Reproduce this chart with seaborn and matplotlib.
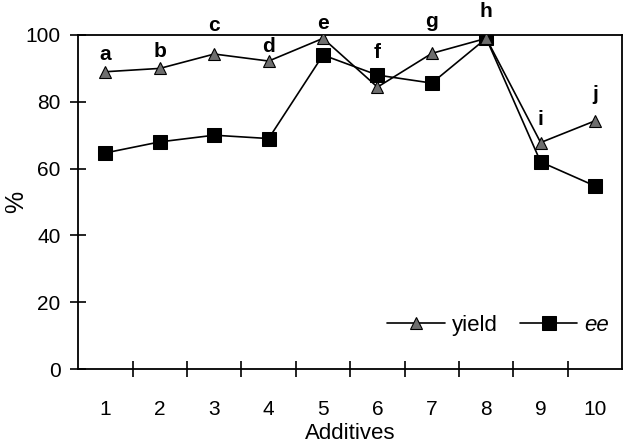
import matplotlib
matplotlib.use('Agg')
import matplotlib.pyplot as plt
import seaborn as sns
import pandas as pd

additives = [1, 2, 3, 4, 5, 6, 7, 8, 9, 10]
point_labels = ['a', 'b', 'c', 'd', 'e', 'f', 'g', 'h', 'i', 'j']
yield_pct = [89, 90, 94.3, 92.2, 99, 84.4, 94.5, 99, 67.8, 74.3]
ee_pct = [64.7, 68, 70, 69, 94, 88, 85.6, 99, 62, 54.8]
# baseline heights (in % units) of the letter labels
label_y = [92.5, 93.4, 101.2, 94.9, 101.8, 93.1, 102.4, 105.4, 73.1, 80.5]

sns.set_style('white', {'text.color': 'black', 'axes.labelcolor': 'black',
                        'xtick.color': 'black', 'ytick.color': 'black'})
plt.rcParams['font.family'] = ['Liberation Sans', 'DejaVu Sans']

df = pd.DataFrame({'Additives': additives, 'yield': yield_pct, 'ee': ee_pct})

fig = plt.figure(figsize=(6.26, 4.43), dpi=100)
ax = fig.add_axes([0.125, 0.167, 0.869, 0.754])

sns.lineplot(data=df, x='Additives', y='yield', ax=ax, color='black', lw=1.2,
             marker='^', markersize=8, markerfacecolor='#6e6e6e',
             markeredgecolor='black', markeredgewidth=0.8, label='yield', zorder=3)
sns.lineplot(data=df, x='Additives', y='ee', ax=ax, color='black', lw=1.2,
             marker='s', markersize=10, markerfacecolor='black',
             markeredgecolor='black', label='ee', zorder=2)

# letters above the yield points
for x, y, t in zip(additives, label_y, point_labels):
    ax.text(x, y, t, ha='center', va='baseline', fontsize=15,
            fontweight='bold', color='black', clip_on=False)

ax.set_xlim(0.5, 10.5)
ax.set_ylim(0, 100)
ax.set_xticks(additives)
ax.set_xticks([i + 0.5 for i in range(1, 10)], minor=True)
ax.set_yticks([0, 20, 40, 60, 80, 100])
ax.tick_params(axis='x', which='major', bottom=True, length=0, labelsize=15, pad=22)
ax.tick_params(axis='x', which='minor', bottom=True, direction='inout',
               length=11.5, width=1.2)
ax.tick_params(axis='y', left=True, direction='inout', length=11.5, width=1.2,
               labelsize=15, pad=7)
for s in ax.spines.values():
    s.set_color('black')
    s.set_linewidth(1.3)

ax.set_xlabel('Additives', fontsize=16, labelpad=3)
ax.set_ylabel('%', fontsize=18)
ax.yaxis.set_label_coords(-0.093, 0.5)

leg = ax.legend(loc='lower right', ncol=2, frameon=False, fontsize=16,
                handlelength=2.6, columnspacing=1.0, handletextpad=0.3,
                borderaxespad=0.2, bbox_to_anchor=(1.0, 0.06))
leg.get_texts()[1].set_style('italic')

fig.savefig('out.png', dpi=100)
